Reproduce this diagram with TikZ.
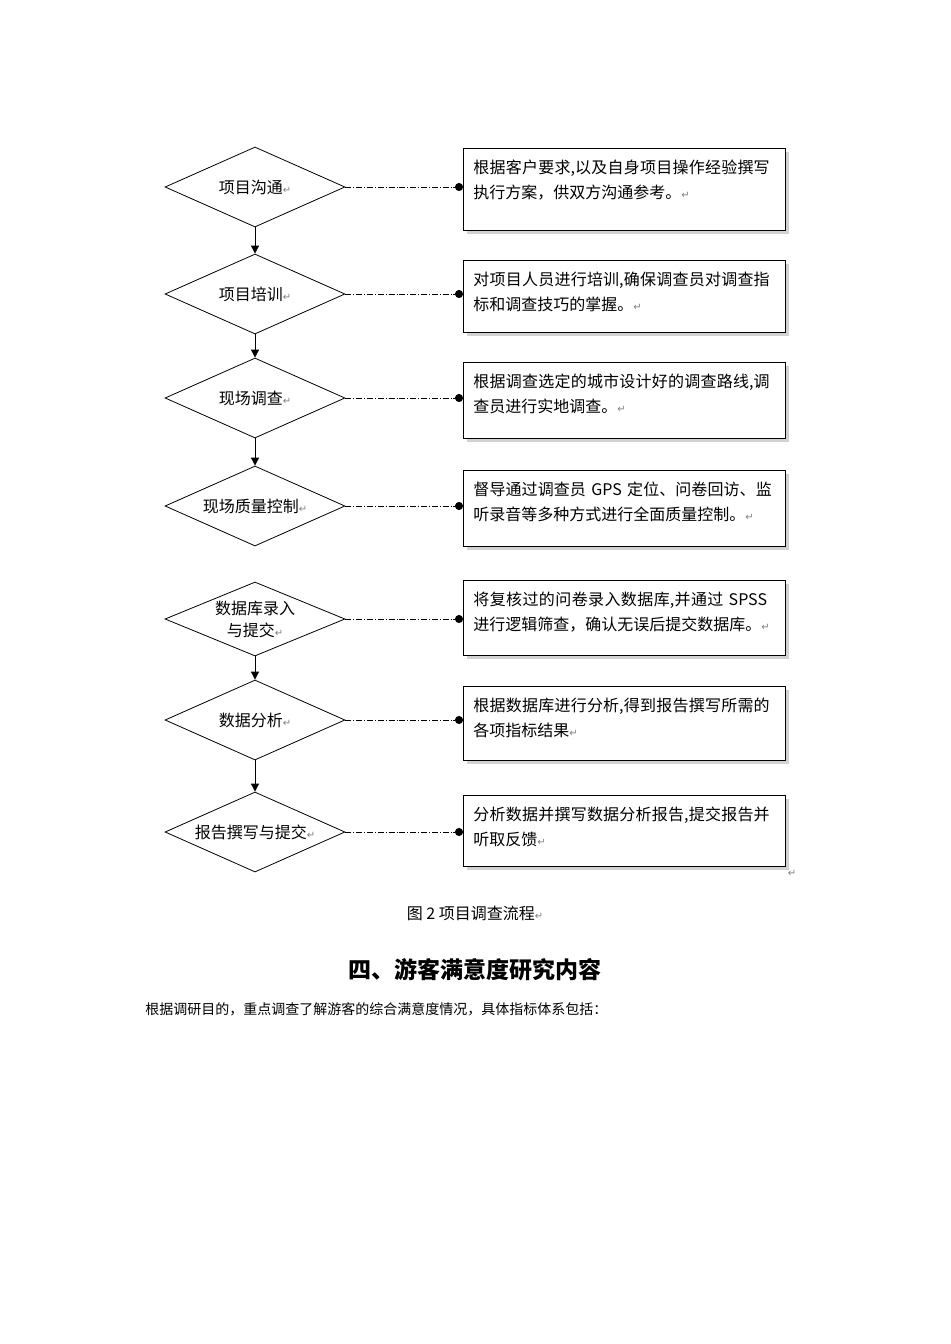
\documentclass[tikz,border=0pt]{standalone}
\usepackage{fontspec}
\setmainfont{Liberation Serif}
\newfontfamily\cjk{Noto Sans CJK SC}
\newfontfamily\symf{DejaVu Sans}
\XeTeXlinebreaklocale "zh"
\XeTeXlinebreakskip=0pt plus 1pt
\usetikzlibrary{positioning, shapes.geometric}
\usetikzlibrary{arrows, arrows.meta}
\tikzset{
  stage/.style={draw, diamond, aspect=2.25, minimum width=90pt, minimum height=40pt,
    inner sep=0pt, align=center, font=\cjk\fontsize{8}{11}\selectfont},
  note/.style={text width=150pt, align=left, anchor=north west, inner sep=5pt,
    font=\cjk\fontsize{8}{12.5}\selectfont},
  link/.style={densely dash dot, {}-{Circle[length=4pt]}},
  flow/.style={-{Triangle[length=4pt,width=4pt]}},
}
\newcommand{\parmark}{{\color{gray}\symf\fontsize{5}{5}\selectfont ↵}}
\begin{document}
\begin{tikzpicture}[x=0.5pt,y=-0.5pt]
\useasboundingbox (0,0) rectangle (950,1344);

% stages
\node[stage] (s1) at (255,187) {项目沟通\parmark};
\node[stage] (s2) at (255,294) {项目培训\parmark};
\node[stage] (s3) at (255,398) {现场调查\parmark};
\node[stage] (s4) at (255,506) {现场质量控制\parmark};
\node[stage, minimum height=37pt] (s5) at (255,619) {数据库录入\\与提交\parmark};
\node[stage] (s6) at (255,720) {数据分析\parmark};
\node[stage] (s7) at (255,832) {报告撰写与提交\parmark};

% notes (with light shadow)
\foreach \y/\h/\n/\t in {
  148/82/n1/{根据客户要求,以及自身项目操作经验撰写执行方案，供双方沟通参考。\parmark},
  260/72/n2/{对项目人员进行培训,确保调查员对调查指标和调查技巧的掌握。\parmark},
  362/76/n3/{根据调查选定的城市设计好的调查路线,调查员进行实地调查。\parmark},
  470/76/n4/{督导通过调查员 GPS 定位、问卷回访、监听录音等多种方式进行全面质量控制。\parmark},
  580/75/n5/{将复核过的问卷录入数据库,并通过 SPSS 进行逻辑筛查，确认无误后提交数据库。\parmark},
  686/74/n6/{根据数据库进行分析,得到报告撰写所需的各项指标结果\parmark},
  795/71/n7/{分析数据并撰写数据分析报告,提交报告并听取反馈\parmark}}
{
  \fill[gray!35] (467,\y+4) rectangle ++(322,\h);
  \draw[fill=white] (463,\y) rectangle ++(322,\h);
  \node[note] (\n) at (463,\y+2) {\t};
}

% links
\foreach \i in {1,...,7}
  \draw[link] (s\i.east) -- (s\i.east -| n\i.west);

% flow
\foreach \a/\b in {1/2,2/3,3/4,5/6,6/7}
  \draw[flow] (s\a.south) -- (s\b.north);

\node (pe) at (792,873) {\parmark};

% caption and text below
\node[font=\cjk\fontsize{8}{10}\selectfont] (cap) at (475,913) {图 2 项目调查流程\parmark};
\node[font=\cjk\bfseries\fontsize{11.5}{14}\selectfont] (head) at (475,970) {四、游客满意度研究内容};
\node[anchor=west, font=\cjk\fontsize{7}{9}\selectfont, inner sep=0pt] (body) at (145,1009)
  {根据调研目的，重点调查了解游客的综合满意度情况，具体指标体系包括：};
\end{tikzpicture}
\end{document}
